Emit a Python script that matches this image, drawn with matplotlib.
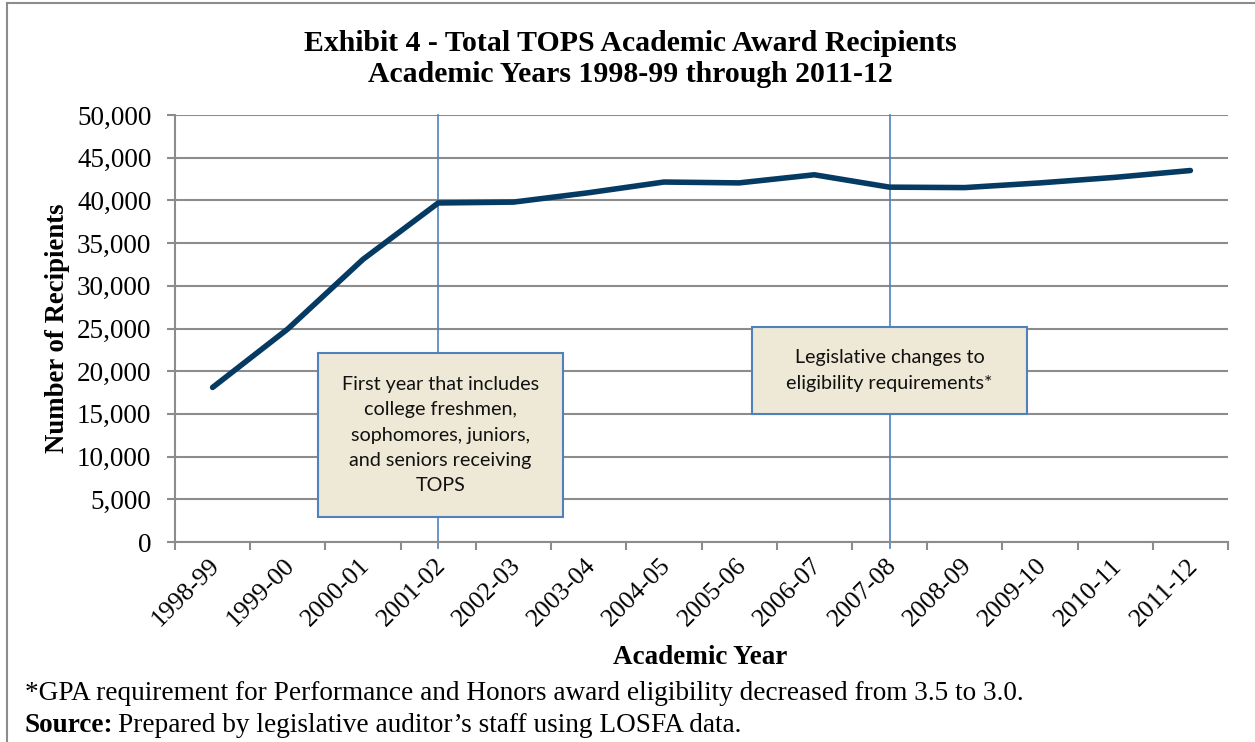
import matplotlib
matplotlib.use("Agg")
import matplotlib.pyplot as plt
from matplotlib.patches import Rectangle
from matplotlib.lines import Line2D
from matplotlib.ticker import FuncFormatter, FixedLocator
from matplotlib.transforms import ScaledTranslation

years = ["1998-99", "1999-00", "2000-01", "2001-02", "2002-03", "2003-04", "2004-05",
         "2005-06", "2006-07", "2007-08", "2008-09", "2009-10", "2010-11", "2011-12"]
recipients = [18100, 24950, 33100, 39700, 39800, 40900, 42150,
              42050, 43000, 41550, 41500, 42050, 42700, 43500]
y_ticks = [0, 5000, 10000, 15000, 20000, 25000, 30000, 35000, 40000, 45000, 50000]

title = "Exhibit 4 - Total TOPS Academic Award Recipients\nAcademic Years 1998-99 through 2011-12"
note1_year = "2001-02"
note1_text = "First year that includes\ncollege freshmen,\nsophomores, juniors,\nand seniors receiving\nTOPS"
note2_year = "2007-08"
note2_text = "Legislative changes to\neligibility requirements*"
footnote = "*GPA requirement for Performance and Honors award eligibility decreased from 3.5 to 3.0."
source_bold = "Source:"
source_text = "Prepared by legislative auditor\u2019s staff using LOSFA data."

W, H = 1255, 742
fig = plt.figure(figsize=(W / 100, H / 100), dpi=100)
serif = ["Liberation Serif", "DejaVu Serif"]
boxfont = ["Lato", "DejaVu Sans"]

L, R, T, B = 175, 1228, 115, 542
ax = fig.add_axes([L / W, (H - B) / H, (R - L) / W, (B - T) / H])

grid_c = "#8c8c8c"
x = list(range(len(years)))
ax.set_xlim(-0.5, len(years) - 0.5)
ax.set_ylim(0, 50000)
ax.set_yticks(y_ticks)
ax.yaxis.set_major_formatter(FuncFormatter(lambda v, p: f"{int(v):,}"))
ax.grid(axis="y", color=grid_c, linewidth=1.5, zorder=0)
ax.set_axisbelow(True)
for s in ["top", "right"]:
    ax.spines[s].set_visible(False)
for s in ["left", "bottom"]:
    ax.spines[s].set_color(grid_c)
    ax.spines[s].set_linewidth(1.5)

# x ticks at category boundaries, labels at centres
ax.xaxis.set_major_locator(FixedLocator([i - 0.5 for i in range(len(years) + 1)]))
ax.xaxis.set_major_formatter(FuncFormatter(lambda v, p: ""))
ax.xaxis.set_minor_locator(FixedLocator(x))
ax.set_xticklabels(years, minor=True, rotation=45, ha="right", rotation_mode="anchor",
                   fontfamily=serif, fontsize=18.5)
ax.tick_params(axis="x", which="major", length=6, width=1.5, color=grid_c, direction="out")
ax.tick_params(axis="x", which="minor", length=0, pad=9)
shift = ScaledTranslation(-4 / 100, 0, fig.dpi_scale_trans)
for lab in ax.get_xticklabels(minor=True):
    lab.set_transform(lab.get_transform() + shift)
ax.tick_params(axis="y", length=6, width=1.5, color=grid_c, direction="out", pad=11,
               labelsize=19.5)
for lab in ax.get_yticklabels():
    lab.set_fontfamily(serif)

# reference lines
for yr in [note1_year, note2_year]:
    xi = years.index(yr)
    ax.plot([xi, xi], [-750, 50000], color="#4f81bd", linewidth=1.2, clip_on=False, zorder=2)

ax.plot(x, recipients, color="#053b62", linewidth=4, solid_capstyle="round",
        solid_joinstyle="round", zorder=3)

# annotation boxes (axes fraction)
def box(x0, y0, x1, y1, text):
    ax.add_patch(Rectangle((x0, y0), x1 - x0, y1 - y0, transform=ax.transAxes,
                           facecolor="#eee8d6", edgecolor="#4f81bd", linewidth=1.5, zorder=4))
    ax.text((x0 + x1) / 2, (y0 + y1) / 2, text, transform=ax.transAxes, ha="center",
            va="center", fontsize=14.2, fontfamily=boxfont, color="#111111",
            linespacing=1.6, zorder=5)

box(0.1358, 0.0585, 0.3685, 0.4426, note1_text)
box(0.548, 0.2998, 0.809, 0.5035, note2_text)

fig.text(700 / W, 1 - 658 / H, "Academic Year", ha="center", va="center", fontfamily=serif,
         fontsize=19.5, fontweight="bold")
fig.text(58 / W, 1 - 328 / H, "Number of Recipients", ha="center", va="center",
         rotation=90, fontfamily=serif, fontsize=19.3, fontweight="bold")

fig.text(0.5025, 1 - 59 / H, title, ha="center", va="center", fontfamily=serif,
         fontsize=21.4, fontweight="bold", linespacing=1.15)

fig.text(25 / W, 1 - 693 / H, footnote, ha="left", va="center", fontfamily=serif,
         fontsize=19.6)
t = fig.text(25 / W, 1 - 725 / H, source_bold, ha="left", va="center", fontfamily=serif,
             fontsize=19.6, fontweight="bold")
fig.canvas.draw()
bb = t.get_window_extent()
fig.text((bb.x1 + 5) / W, 1 - 725 / H, source_text, ha="left", va="center", fontfamily=serif,
         fontsize=19.6)

# outer frame (top and left)
fig.add_artist(Line2D([7 / W, 1], [1 - 3 / H, 1 - 3 / H], transform=fig.transFigure,
                      color="#8c8c8c", linewidth=1.5))
fig.add_artist(Line2D([7 / W, 7 / W], [0, 1 - 3 / H], transform=fig.transFigure,
                      color="#8c8c8c", linewidth=1.5))

fig.savefig("out.png", dpi=100)
